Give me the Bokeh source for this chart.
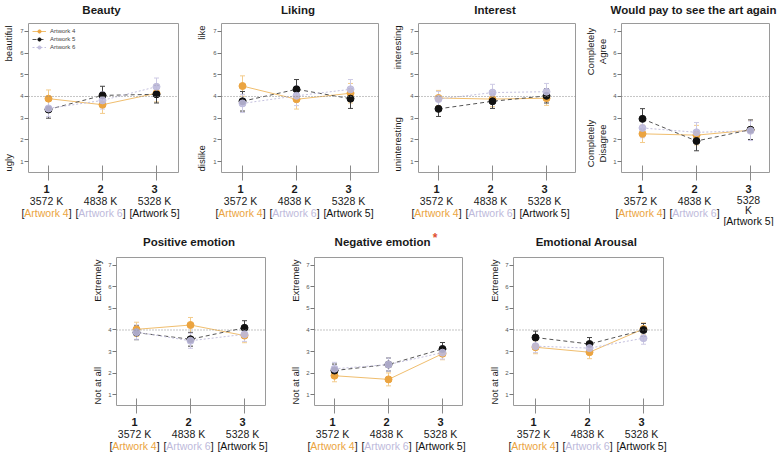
import math
from bokeh.plotting import figure
from bokeh.models import (Range1d, FixedTicker, Span, Whisker, TeeHead,
                          ColumnDataSource, Legend, LegendItem)
from bokeh.core.properties import value
from bokeh.layouts import row, column
from bokeh.embed import file_html
from bokeh.resources import INLINE

# ---------------- data ----------------
x_pos = [1, 2, 3]
cond_num = ["1", "2", "3"]
cond_kelvin = ["3572 K", "4838 K", "5328 K"]
cond_artwork = ["Artwork 4", "Artwork 6", "Artwork 5"]
series_names = ["Artwork 4", "Artwork 5", "Artwork 6"]

titles = ["Beauty", "Liking", "Interest", "Would pay to see the art again",
          "Positive emotion", "Negative emotion", "Emotional Arousal"]
y_top_labels = [["beautiful"], ["like"], ["interesting"], ["Completely", "Agree"],
                ["Extremely"], ["Extremely"], ["Extremely"]]
y_bottom_labels = [["ugly"], ["dislike"], ["uninteresting"], ["Completely", "Disagree"],
                   ["Not at all"], ["Not at all"], ["Not at all"]]
y_ticks = [1, 2, 3, 4, 5, 6, 7]
neutral = 4

beauty_a4 = [3.90, 3.62, 4.15];   beauty_a4_se = [0.40, 0.40, 0.40]
beauty_a5 = [3.40, 4.05, 4.10];   beauty_a5_se = [0.40, 0.42, 0.40]
beauty_a6 = [3.45, 3.82, 4.45];   beauty_a6_se = [0.38, 0.40, 0.40]

liking_a4 = [4.48, 3.87, 4.15];   liking_a4_se = [0.47, 0.45, 0.45]
liking_a5 = [3.78, 4.33, 3.90];   liking_a5_se = [0.45, 0.45, 0.45]
liking_a6 = [3.68, 4.03, 4.33];   liking_a6_se = [0.42, 0.45, 0.45]

interest_a4 = [3.93, 3.88, 3.92]; interest_a4_se = [0.35, 0.35, 0.33]
interest_a5 = [3.43, 3.78, 4.03]; interest_a5_se = [0.35, 0.33, 0.33]
interest_a6 = [3.88, 4.18, 4.22]; interest_a6_se = [0.35, 0.38, 0.38]

pay_a4 = [2.28, 2.22, 2.45];      pay_a4_se = [0.40, 0.45, 0.45]
pay_a5 = [2.97, 1.95, 2.47];      pay_a5_se = [0.47, 0.45, 0.45]
pay_a6 = [2.55, 2.35, 2.42];      pay_a6_se = [0.45, 0.45, 0.45]

positive_a4 = [4.03, 4.23, 3.74]; positive_a4_se = [0.33, 0.35, 0.33]
positive_a5 = [3.88, 3.57, 4.10]; positive_a5_se = [0.33, 0.32, 0.33]
positive_a6 = [3.90, 3.50, 3.80]; positive_a6_se = [0.33, 0.35, 0.33]

negative_a4 = [1.88, 1.71, 2.90]; negative_a4_se = [0.28, 0.30, 0.28]
negative_a5 = [2.12, 2.40, 3.12]; negative_a5_se = [0.30, 0.30, 0.30]
negative_a6 = [2.20, 2.40, 2.95]; negative_a6_se = [0.30, 0.30, 0.30]

arousal_a4 = [3.20, 2.97, 4.05];  arousal_a4_se = [0.30, 0.30, 0.28]
arousal_a5 = [3.65, 3.35, 4.00];  arousal_a5_se = [0.30, 0.30, 0.30]
arousal_a6 = [3.25, 3.16, 3.62];  arousal_a6_se = [0.30, 0.30, 0.28]

panel_values = [
    (beauty_a4, beauty_a5, beauty_a6), (liking_a4, liking_a5, liking_a6),
    (interest_a4, interest_a5, interest_a6), (pay_a4, pay_a5, pay_a6),
    (positive_a4, positive_a5, positive_a6), (negative_a4, negative_a5, negative_a6),
    (arousal_a4, arousal_a5, arousal_a6)]
panel_errors = [
    (beauty_a4_se, beauty_a5_se, beauty_a6_se), (liking_a4_se, liking_a5_se, liking_a6_se),
    (interest_a4_se, interest_a5_se, interest_a6_se), (pay_a4_se, pay_a5_se, pay_a6_se),
    (positive_a4_se, positive_a5_se, positive_a6_se), (negative_a4_se, negative_a5_se, negative_a6_se),
    (arousal_a4_se, arousal_a5_se, arousal_a6_se)]

# ---------------- styles ----------------
FONT = "Liberation Sans"
ORANGE = "#EBA440"
LAV = "#BEBADB"
styles = [  # marker, line, dash, whisker
    (ORANGE, "#F0BE6E", "solid", "#F3CC8C"),
    ("#111111", "#555555", "4 3", "#444444"),
    (LAV, "#C4C0DE", "2 2", "#CDCAE4"),
]
art_colors = {"Artwork 4": ORANGE, "Artwork 6": LAV, "Artwork 5": "#111111"}

CW = {'A': 0.667, 'r': 0.333, 't': 0.278, 'w': 0.722, 'o': 0.556, 'k': 0.5,
      ' ': 0.278, '4': 0.556, '5': 0.556, '6': 0.556,
      'N': 0.722, 'e': 0.556, 'g': 0.611, 'a': 0.556, 'i': 0.278, 'v': 0.556,
      'm': 0.889, 'n': 0.611}


def tw(s, size):
    return sum(CW.get(ch, 0.556) for ch in s) * size


PPU_X = 54.0
YS, YE = 0.50, 7.36
LM = 9    # left border of main plot (tick labels)
BM = 10   # bottom border of main plot (ticks)

layout_cfg = [
    dict(fw=150, a=20, L=26, R=16, fh=149, ht=23, hb=44, tgap=14, yd=18),
    dict(fw=157, a=21, L=25, R=11, fh=149, ht=23, hb=44, tgap=14, yd=18),
    dict(fw=157, a=20, L=27, R=7, fh=149, ht=23, hb=44, tgap=14, yd=19),
    dict(fw=148, a=21, L=37, R=14, fh=149, ht=23, hb=44, tgap=14, yd=17),
    dict(fw=149, a=20, L=114, R=17, fh=148, ht=31, hb=38, tgap=16, yd=17),
    dict(fw=148, a=20, L=30, R=17, fh=148, ht=31, hb=38, tgap=16, yd=17),
    dict(fw=150, a=22, L=32, R=20, fh=148, ht=31, hb=38, tgap=16, yd=17),
]


def helper(fw, fh, xr, yr):
    h = figure(frame_width=fw, frame_height=fh, x_range=xr, y_range=yr,
               x_axis_type=None, y_axis_type=None, min_border=0, title=None,
               toolbar_location=None, output_backend="svg")
    h.outline_line_color = None
    h.grid.visible = False
    return h


def txt(p, x, y, s, size, color="#1a1a1a", bold=False, align="center", angle=0.0, xoff=0):
    p.text(x=[x], y=[y], text=[s], text_font=value(FONT), text_font_size=value(size),
           text_font_style=value("bold" if bold else "normal"), text_color=color,
           text_align=value(align), text_baseline=value("middle"), angle=angle,
           x_offset=xoff)


def make_panel(i):
    cfg = layout_cfg[i]
    FW, FH, L, R = cfg["fw"], cfg["fh"], cfg["L"], cfg["R"]
    xs = 1 - cfg["a"] / PPU_X
    xe = xs + FW / PPU_X
    yrange = Range1d(YS, YE)
    p = figure(frame_width=FW, frame_height=FH, x_range=Range1d(xs, xe),
               y_range=yrange, output_backend="svg", toolbar_location=None,
               title=None, min_border_left=LM, min_border_right=R,
               min_border_top=0, min_border_bottom=BM)
    p.grid.visible = False
    p.outline_line_color = "#9a9a9a"
    p.outline_line_width = 1

    p.yaxis.ticker = FixedTicker(ticks=y_ticks)
    p.yaxis.major_label_text_font_size = "6px"
    p.yaxis.major_label_text_color = "#555555"
    p.yaxis.major_label_text_font = FONT
    p.yaxis.major_tick_out = 4
    p.yaxis.major_tick_in = 0
    p.yaxis.major_label_standoff = 1
    p.yaxis.major_tick_line_color = "#777777"
    p.yaxis.axis_line_color = None
    p.yaxis.minor_tick_line_color = None

    p.xaxis.ticker = FixedTicker(ticks=x_pos)
    p.xaxis.major_label_overrides = {1: "", 2: "", 3: ""}
    p.xaxis.major_label_text_font_size = "1px"
    p.xaxis.major_label_standoff = 0
    p.xaxis.major_tick_in = 7
    p.xaxis.major_tick_out = 8
    p.xaxis.major_tick_line_color = "#8a8a8a"
    p.xaxis.axis_line_color = None
    p.xaxis.minor_tick_line_color = None

    p.add_layout(Span(location=neutral, dimension="width", line_color="#8a8a8a",
                      line_dash="1 2", line_width=1))

    vals, errs = panel_values[i], panel_errors[i]
    srcs = []
    for si in range(3):
        v, e = vals[si], errs[si]
        src = ColumnDataSource(dict(x=x_pos, y=v,
                                    lo=[a - b for a, b in zip(v, e)],
                                    hi=[a + b for a, b in zip(v, e)]))
        srcs.append(src)
        ec = styles[si][3]
        p.add_layout(Whisker(source=src, base="x", upper="hi", lower="lo",
                             dimension="height", line_color=ec, line_width=1,
                             upper_head=TeeHead(size=5, line_color=ec, line_width=1),
                             lower_head=TeeHead(size=5, line_color=ec, line_width=1)))
    line_rs = [p.line("x", "y", source=srcs[si], line_color=styles[si][1],
                      line_width=1, line_dash=styles[si][2]) for si in range(3)]
    scat_rs = []
    for si in range(3):
        alpha = 0.9 if si == 2 else 1.0
        scat_rs.append(p.scatter("x", "y", source=srcs[si], size=7,
                                 fill_color=styles[si][0], line_color=styles[si][0],
                                 fill_alpha=alpha, line_alpha=alpha))
    if i == 0:
        items = [LegendItem(label=series_names[si], renderers=[line_rs[si], scat_rs[si]])
                 for si in range(3)]
        p.add_layout(Legend(items=items, location="top_left", label_text_font_size="6px",
                            label_text_font=FONT, glyph_width=14, glyph_height=8,
                            label_height=8, label_standoff=4, spacing=0, padding=2,
                            margin=4, border_line_color=None, background_fill_alpha=0))

    # ---- left helper: y side labels (shares y range) ----
    ly = helper(L - LM, FH, Range1d(-L, -LM), yrange)
    ly.min_border_bottom = BM
    ppu_y = FH / (YE - YS)
    if len(y_top_labels[i]) == 1:
        d = cfg["yd"]
        txt(ly, -d, YE - 2 / ppu_y, y_top_labels[i][0], "9.5px", align="right", angle=math.pi / 2)
        txt(ly, -d, YS + 1 / ppu_y, y_bottom_labels[i][0], "9.5px", align="left", angle=math.pi / 2)
    else:
        for li, d in enumerate([29, 17]):
            txt(ly, -d, YE - 28 / ppu_y, y_top_labels[i][li], "9.5px", angle=math.pi / 2)
            txt(ly, -d, YS + 29 / ppu_y, y_bottom_labels[i][li], "9.5px", angle=math.pi / 2)

    full_xr = lambda: Range1d(xs - L / PPU_X, xe + R / PPU_X)
    # ---- top helper: title ----
    top = helper(L + FW + R, cfg["ht"], full_xr(), Range1d(0, cfg["ht"]))
    xc = (xs + xe) / 2
    if i == 5:
        w = tw(titles[i], 11.5)
        txt(top, xc, cfg["tgap"], titles[i], "11.5px", bold=True, xoff=-4)
        txt(top, xc, cfg["tgap"] + 4, "*", "12px", color="#E0502F", bold=True,
            xoff=-4 + w / 2 + 6)
    else:
        txt(top, xc, cfg["tgap"], titles[i], "11.5px", bold=True)

    # ---- bottom helper: category labels ----
    hb = cfg["hb"]
    bot = helper(L + FW + R, hb, full_xr(), Range1d(-hb, 0))
    yb = lambda d: -(d - BM)
    for k in range(3):
        x = x_pos[k]
        art = cond_artwork[k]
        if i == 3 and k == 2:
            parts = cond_kelvin[k].split(" ")
            off_num, kel_lines, off_art = 16, [(parts[0], 27), (parts[1], 37)], 48
        else:
            off_num, kel_lines, off_art = 16, [(cond_kelvin[k], 28)], 40
        txt(bot, x, yb(off_num), cond_num[k], "11px", bold=True)
        for s, off in kel_lines:
            txt(bot, x, yb(off), s, "10.5px")
        w = tw(art, 10.5)
        txt(bot, x, yb(off_art), art, "10.5px", color=art_colors[art])
        txt(bot, x, yb(off_art), "[", "10.5px", align="right", xoff=-w / 2)
        txt(bot, x, yb(off_art), "]", "10.5px", align="left", xoff=w / 2)

    return column(top, row(ly, p), bot)


panels = [make_panel(i) for i in range(7)]
layout = column(row(*panels[:4]), row(*panels[4:]))
open("out.html", "w").write(file_html(layout, INLINE))
